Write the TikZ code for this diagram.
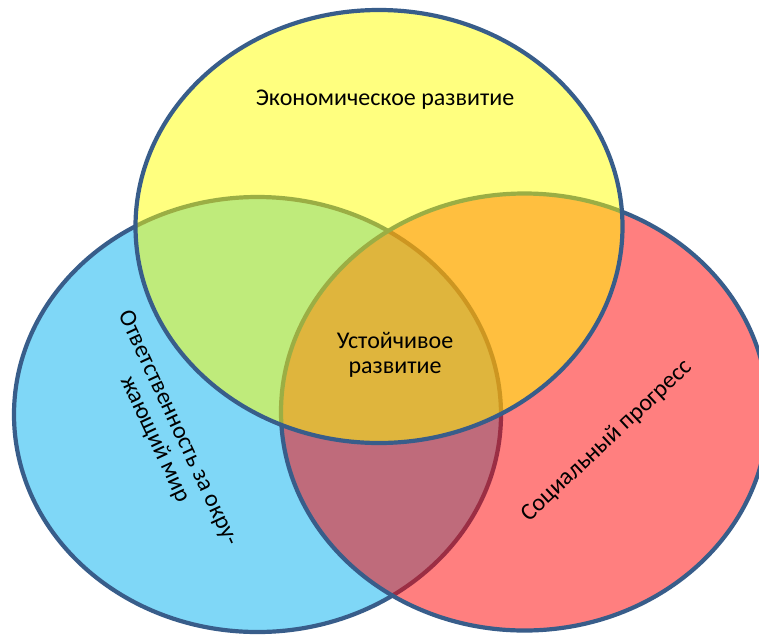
\documentclass[tikz,border=0pt]{standalone}
\usepackage{fontspec}
\setmainfont{Carlito}
\definecolor{rim}{HTML}{385D8A}
\definecolor{cblue}{HTML}{00B0F0}
\definecolor{cred}{HTML}{FF0000}
\definecolor{cyellow}{HTML}{FFFF00}
\tikzset{
  venn/.style={draw=rim, line width=4.2pt, fill opacity=0.5},
  lbl/.style={font=\fontsize{24}{25.5}\selectfont, align=center, inner sep=0pt, text=black}
}
\begin{document}
\begin{tikzpicture}[x=1pt, y=-1pt]
\useasboundingbox (0,0) rectangle (759,635);
\clip (0,0) rectangle (759,635);
\fill[white] (0,0) rectangle (759,635);
\draw[venn, fill=cblue] (257.5,414.5) ellipse [x radius=243.5, y radius=217.5];
\draw[venn, fill=cred] (524.5,412) ellipse [x radius=243.5, y radius=218.5];
\draw[venn, fill=cyellow] (379,226.5) ellipse [x radius=243.5, y radius=216.5];
\node[lbl] (econ) at (385,100) {Экономическое развитие};
\node[lbl] (sust) at (395,355) {Устойчивое\\развитие};
\node[lbl, rotate=-65] (env) at (166,434) {Ответственность за окру-\\жающий мир};
\node[lbl, rotate=43] (soc) at (607,441) {Социальный прогресс};
\end{tikzpicture}
\end{document}
